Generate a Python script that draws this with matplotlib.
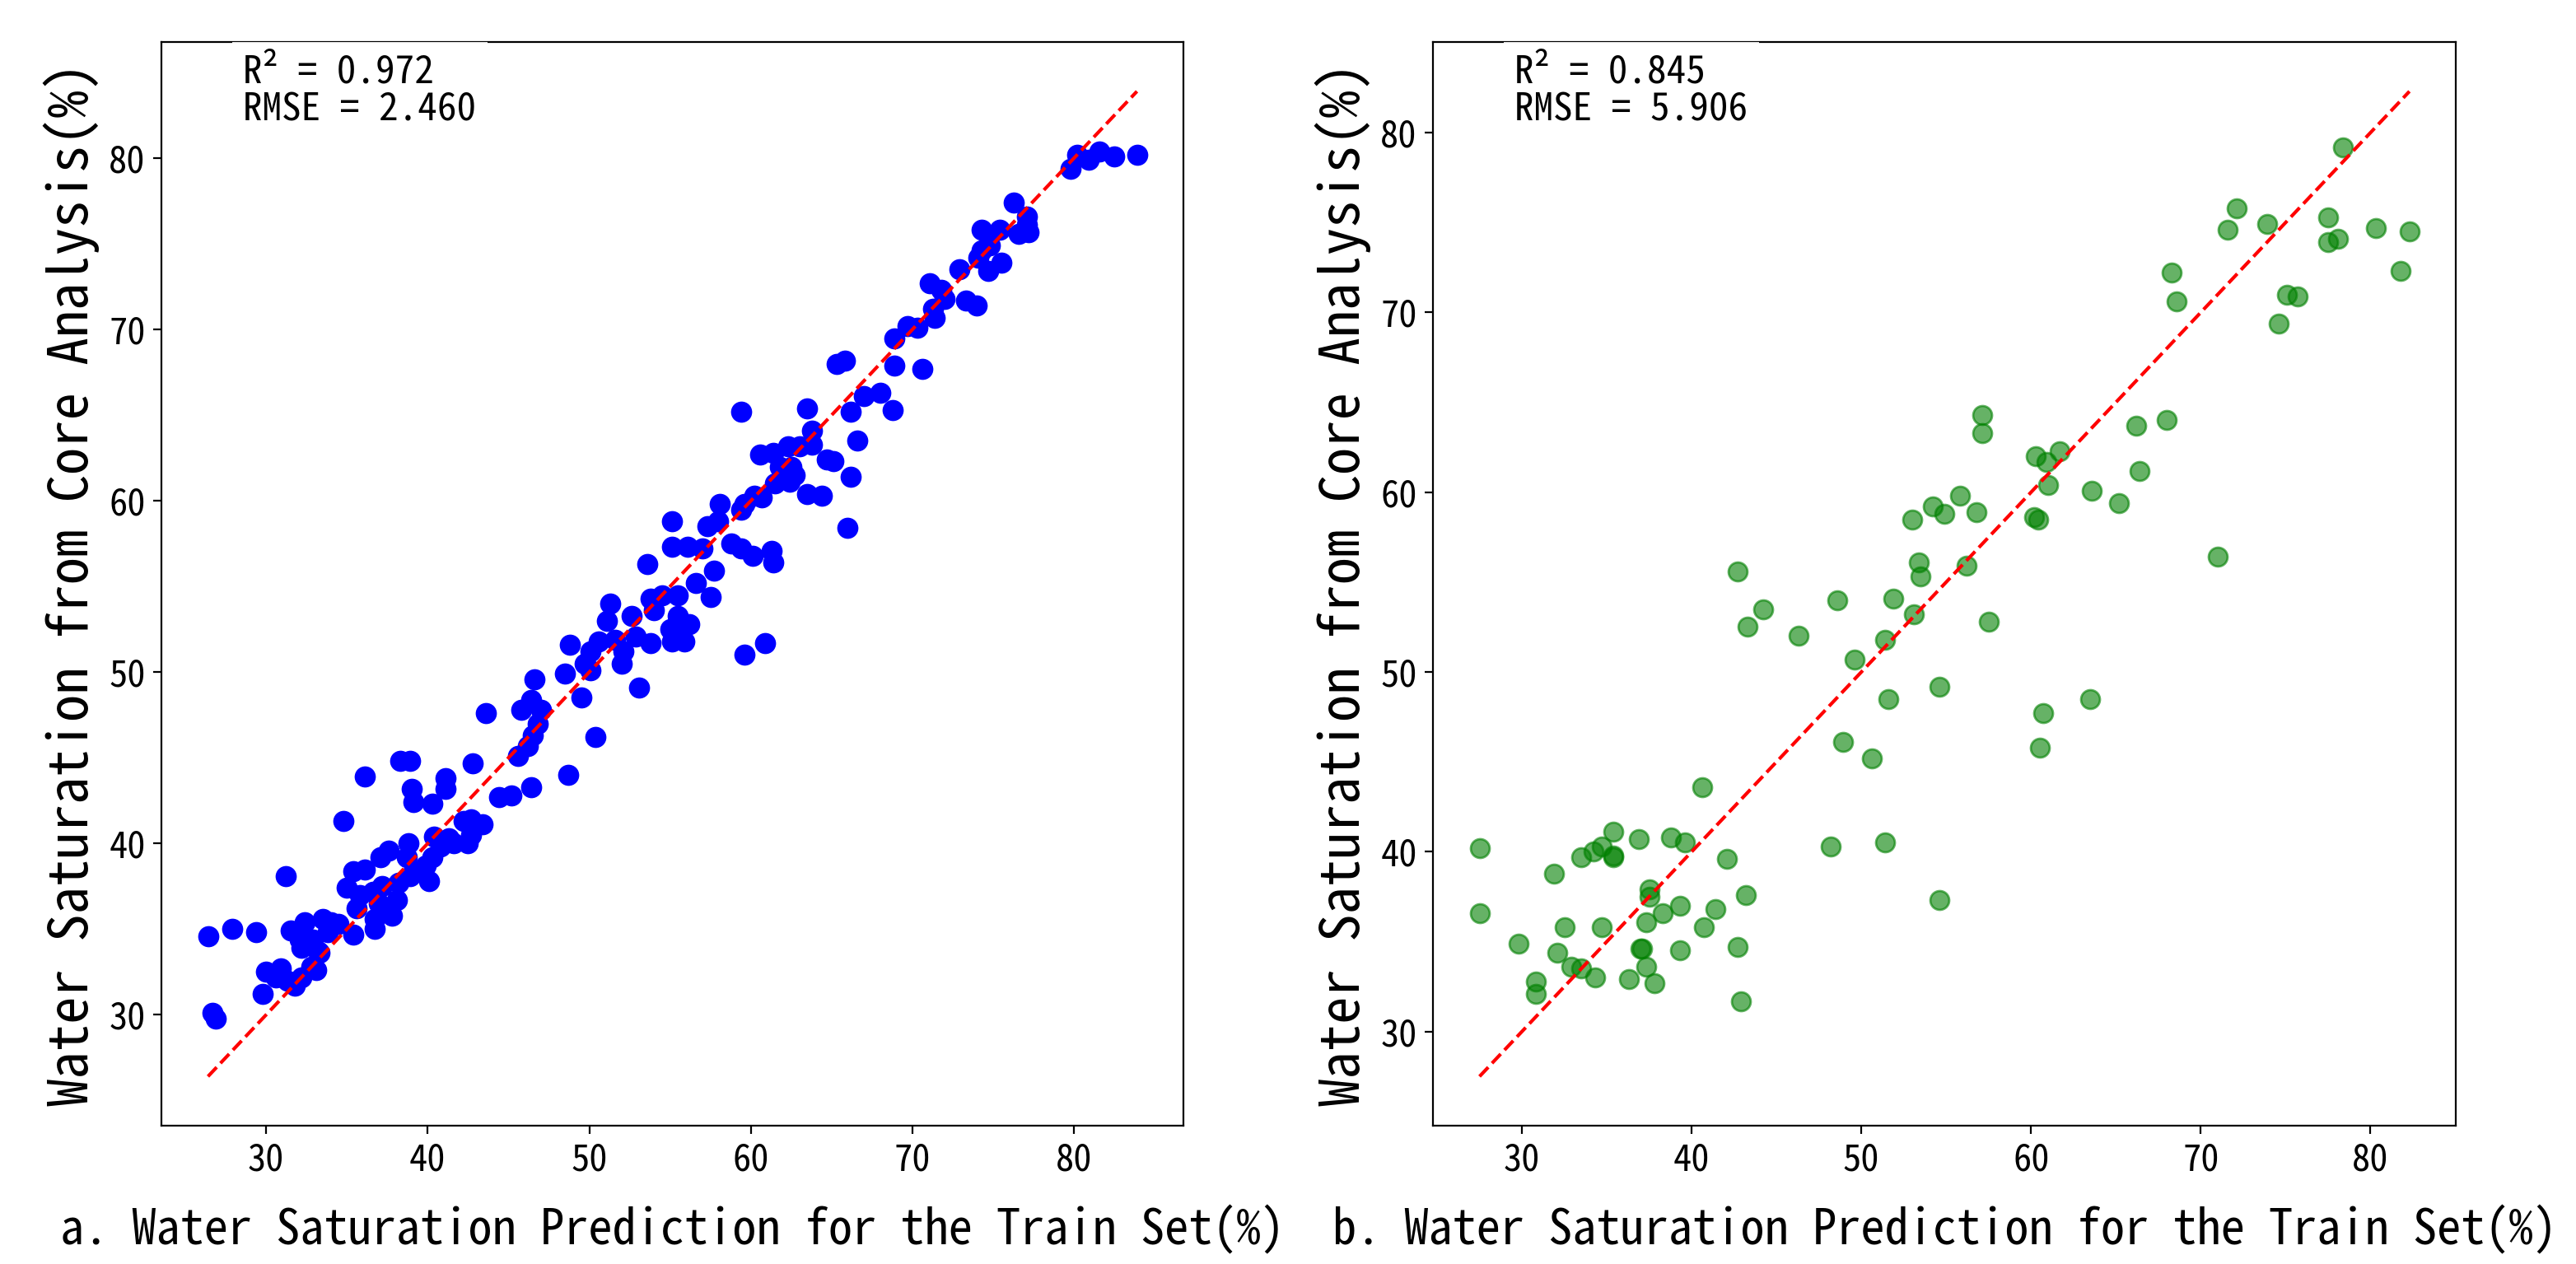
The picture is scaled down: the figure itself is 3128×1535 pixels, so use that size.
import numpy as np
import matplotlib
matplotlib.use("Agg")
import matplotlib.pyplot as plt

plt.rcParams['font.family'] = ['Noto Sans Mono CJK SC', 'DejaVu Sans Mono']

# train set: predicted Sw (x) vs core Sw (y)
train_pred = [
    26.4, 27.9, 29.4, 26.7, 26.9, 29.8, 31.2, 34.8, 36.1, 38.3, 38.9, 39.0, 39.1, 40.3, 41.1, 41.1,
    30.0, 30.9, 30.6, 31.3, 31.8, 32.2, 32.8, 33.1, 33.3,
    31.5, 32.4, 32.1, 32.2, 32.9, 33.5, 34.0, 34.5, 33.8, 33.2, 35.4,
    35.4, 36.1, 35.0, 35.8, 35.6, 36.6, 37.2, 37.0, 38.1, 37.8, 36.7, 36.7, 37.1, 37.6, 38.8, 38.7,
    38.2, 38.9, 39.5, 40.1, 39.9, 40.3, 40.4, 40.8, 41.3, 41.6,
    43.6, 42.8, 44.4, 45.2, 46.4, 48.7, 50.4,
    45.6, 46.2, 46.5, 46.8, 47.0, 46.4, 45.8,
    46.6, 48.5, 49.5, 48.8, 53.1,
    42.2, 42.7, 43.4, 42.5, 42.7,
    51.3, 51.1, 52.6, 50.6, 50.1, 49.7, 50.1, 51.6, 52.1, 52.0, 52.9, 53.8,
    53.8, 54.5, 55.5, 54.0, 55.5, 55.0, 55.1, 55.9, 55.6,
    55.1, 55.1, 53.6,
    59.4, 63.5, 63.8, 66.2, 66.6, 66.2, 66.0, 65.3, 65.8, 67.0, 68.0,
    60.6, 61.4, 62.3, 63.0, 63.8, 64.7, 65.1, 61.8, 62.5, 62.7, 62.4, 61.5, 60.2, 60.7, 59.6, 59.4,
    63.5, 64.4,
    58.1, 57.3, 58.0, 56.1, 57.0, 58.8, 59.4, 60.1, 61.3, 61.4, 57.7, 56.6, 57.5, 56.2, 59.6, 60.9,
    83.9, 82.5, 81.6, 80.9, 80.2, 79.8, 76.3, 77.1, 77.1, 76.6, 77.2, 74.3, 75.4, 74.8, 74.3, 74.1,
    75.5, 74.7, 72.9, 71.1, 71.8, 72.0, 71.3, 71.4, 73.3, 74.0, 69.7, 70.3, 68.9, 68.9, 70.6, 68.8,
]
train_core = [
    34.6, 35.0, 34.8, 30.1, 29.8, 31.2, 38.1, 41.3, 43.9, 44.8, 44.8, 43.2, 42.4, 42.3, 43.8, 43.2,
    32.5, 32.7, 32.2, 32.0, 31.7, 32.2, 32.8, 32.6, 33.6,
    34.9, 35.4, 34.4, 33.9, 34.4, 35.6, 35.4, 35.3, 34.8, 33.7, 34.7,
    38.4, 38.5, 37.4, 37.0, 36.2, 37.2, 37.5, 36.5, 36.7, 35.8, 35.0, 35.6, 39.2, 39.6, 40.0, 39.2,
    37.7, 38.1, 38.4, 37.8, 38.7, 39.2, 40.4, 39.8, 40.3, 40.0,
    47.6, 44.7, 42.7, 42.8, 43.3, 44.0, 46.2,
    45.1, 45.7, 46.3, 47.0, 47.8, 48.4, 47.8,
    49.6, 49.9, 48.5, 51.6, 49.1,
    41.3, 41.4, 41.1, 40.0, 40.5,
    54.0, 53.0, 53.3, 51.8, 51.2, 50.5, 50.1, 51.9, 51.2, 50.5, 52.1, 51.7,
    54.3, 54.5, 54.5, 53.6, 53.3, 52.5, 51.8, 51.8, 52.4,
    58.8, 57.3, 56.3,
    65.2, 65.4, 64.1, 65.2, 63.5, 61.4, 58.4, 68.0, 68.2, 66.1, 66.3,
    62.7, 62.8, 63.2, 63.2, 63.3, 62.4, 62.3, 62.0, 62.0, 61.5, 61.1, 61.0, 60.3, 60.2, 59.8, 59.5,
    60.4, 60.3,
    59.8, 58.5, 58.8, 57.3, 57.2, 57.5, 57.2, 56.8, 57.1, 56.4, 55.9, 55.2, 54.4, 52.8, 51.0, 51.7,
    80.2, 80.1, 80.4, 79.9, 80.2, 79.4, 77.4, 76.6, 76.1, 75.6, 75.7, 75.8, 75.8, 74.9, 74.6, 74.2,
    73.9, 73.4, 73.5, 72.7, 72.3, 71.8, 71.2, 70.7, 71.7, 71.4, 70.2, 70.1, 69.5, 67.9, 67.7, 65.3,
]

# test set
test_pred = [
    78.4, 72.1, 71.6, 73.9, 77.5, 77.5, 78.1, 80.3, 82.3, 81.8, 68.3, 68.6, 75.1, 75.7, 74.6,
    57.1, 57.1, 68.0, 66.2, 60.3, 60.9, 61.7, 66.4, 61.0, 63.6, 65.2, 55.8, 54.2, 54.9, 56.8,
    53.0, 60.2, 60.4, 71.0, 53.4, 42.7, 56.2,
    53.5, 44.2, 43.3, 48.6, 51.9, 53.1, 46.3, 51.4, 57.5, 49.6, 54.6, 51.6, 63.5, 60.7, 60.5,
    48.9, 50.6, 40.6,
    27.5, 35.4, 36.9, 38.8, 39.6, 34.7, 34.2, 33.5, 35.4, 35.4, 42.1, 48.2, 51.4,
    31.9, 37.5, 37.5, 43.2, 54.6, 27.5, 39.3, 38.3, 41.4,
    32.5, 34.7, 37.3, 40.7, 29.8, 32.1, 37.0, 37.1, 39.3, 42.7,
    32.9, 33.5, 37.3, 34.3, 36.3, 37.8, 30.8, 30.8, 42.9,
]
test_core = [
    79.2, 75.8, 74.6, 74.9, 75.3, 73.9, 74.1, 74.7, 74.5, 72.3, 72.2, 70.6, 71.0, 70.9, 69.4,
    64.3, 63.3, 64.0, 63.7, 62.0, 61.7, 62.3, 61.2, 60.4, 60.1, 59.4, 59.8, 59.2, 58.8, 58.9,
    58.5, 58.6, 58.5, 56.4, 56.1, 55.6, 55.9,
    55.3, 53.5, 52.5, 54.0, 54.1, 53.2, 52.0, 51.8, 52.8, 50.7, 49.2, 48.5, 48.5, 47.7, 45.8,
    46.1, 45.2, 43.6,
    40.2, 41.1, 40.7, 40.8, 40.5, 40.3, 40.0, 39.7, 39.8, 39.7, 39.6, 40.3, 40.5,
    38.8, 37.9, 37.5, 37.6, 37.3, 36.6, 37.0, 36.6, 36.8,
    35.8, 35.8, 36.1, 35.8, 34.9, 34.4, 34.6, 34.6, 34.5, 34.7,
    33.6, 33.5, 33.6, 33.0, 32.9, 32.7, 32.8, 32.1, 31.7,
]

train_metrics = "R² = 0.972\nRMSE = 2.460"
test_metrics = "R² = 0.845\nRMSE = 5.906"
xlabels = ["a. Water Saturation Prediction for the Train Set(%)",
           "b. Water Saturation Prediction for the Train Set(%)"]
ylabel = "Water Saturation from Core Analysis(%)"


def draw_panel(ax, pred, core, color, alpha, metrics, xlabel):
    pred = np.array(pred)
    core = np.array(core)
    ax.scatter(pred, core, color=color, alpha=alpha, s=68)
    lo = min(pred.min(), core.min())
    hi = max(pred.max(), core.max())
    ax.plot([lo, hi], [lo, hi], 'r--', lw=1.5)
    ax.text(0.08, 0.99, metrics, transform=ax.transAxes, va='top', fontsize=17,
            linespacing=1.0,
            bbox=dict(facecolor='white', alpha=0.9, edgecolor='none', pad=5))
    ax.set_xlabel(xlabel, fontsize=21, labelpad=12)
    ax.set_ylabel(ylabel, fontsize=24)
    ax.tick_params(labelsize=16)


fig = plt.figure(figsize=(15.64, 7.675), dpi=200)
ax1 = fig.add_axes([0.0627, 0.1094, 0.3967, 0.8573])
ax2 = fig.add_axes([0.5563, 0.1094, 0.3971, 0.8573])

draw_panel(ax1, train_pred, train_core, 'blue', 1.0, train_metrics, xlabels[0])
draw_panel(ax2, test_pred, test_core, 'green', 0.6, test_metrics, xlabels[1])

fig.savefig("out.png", dpi=200)
